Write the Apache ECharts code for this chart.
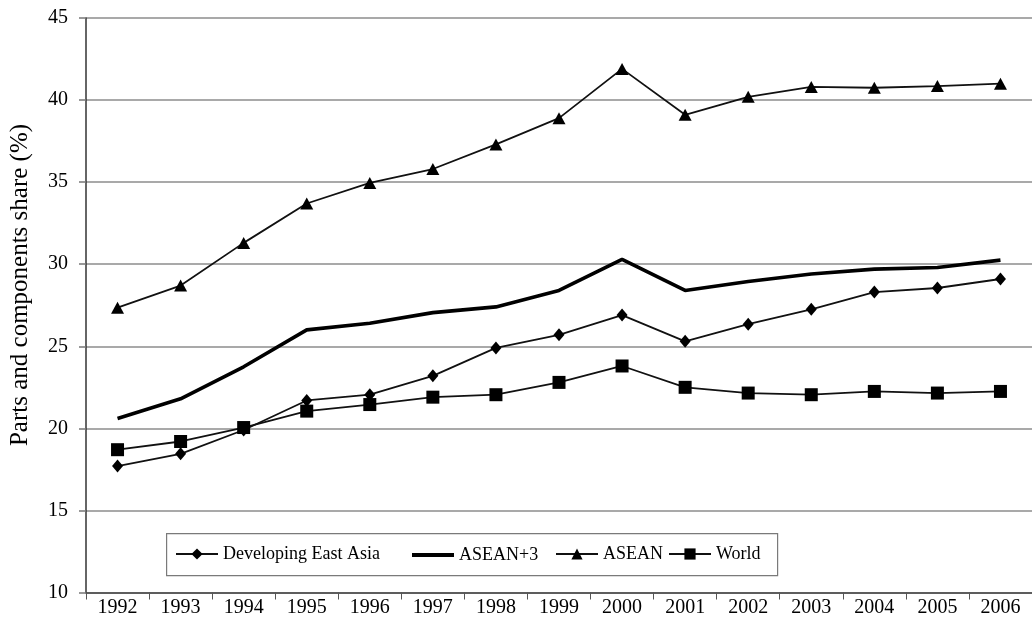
<!DOCTYPE html>
<html>
<head>
<meta charset="utf-8">
<script src="https://cdn.jsdelivr.net/npm/echarts@6/dist/echarts.min.js"></script>
<style>
html,body{margin:0;padding:0;background:#fff;}
#chart{width:1032px;height:620px;}
</style>
</head>
<body>
<div id="chart"></div>
<script>
const years = ['1992','1993','1994','1995','1996','1997','1998','1999','2000','2001','2002','2003','2004','2005','2006'];
const developingEastAsia = [17.7,18.45,19.9,21.7,22.05,23.2,24.9,25.7,26.9,25.3,26.35,27.25,28.3,28.55,29.1];
const aseanPlus3 = [20.6,21.8,23.75,26.0,26.4,27.05,27.4,28.4,30.3,28.4,28.95,29.4,29.7,29.8,30.25];
const asean = [27.35,28.7,31.3,33.7,34.95,35.8,37.3,38.9,41.9,39.1,40.2,40.8,40.75,40.85,41.0];
const world = [18.7,19.2,20.05,21.05,21.45,21.9,22.05,22.8,23.8,22.5,22.15,22.05,22.25,22.15,22.25];
const yTicks = {min:10, max:45, interval:5};
const yTitle = 'Parts and components share (%)';

const FONT = '"Liberation Serif", "Times New Roman", serif';
const chart = echarts.init(document.getElementById('chart'), null, {renderer:'canvas'});

function legendAt(name, left, extra){
  return Object.assign({
    data:[name], left:left, top:545, orient:'horizontal',
    itemWidth:42, itemHeight:14, itemGap:0, padding:0,
    textStyle:{fontFamily:FONT, fontSize:18, color:'#000', padding:[2,0,0,0]},
    selectedMode:false
  }, extra || {});
}

chart.setOption({
  animation:false,
  backgroundColor:'#fff',
  grid:{left:86, right:0, top:18, bottom:27.5, containLabel:false},
  xAxis:{
    type:'category', data:years, boundaryGap:true,
    axisLine:{show:true, lineStyle:{color:'#444', width:1.5}},
    axisTick:{show:true, length:7, inside:false, lineStyle:{color:'#555', width:1}},
    axisLabel:{fontFamily:FONT, fontSize:20, color:'#000', margin:5},
    splitLine:{show:false}
  },
  yAxis:{
    type:'value', min:yTicks.min, max:yTicks.max, interval:yTicks.interval,
    axisLine:{show:true, lineStyle:{color:'#333', width:1.5}},
    axisTick:{show:true, length:7, lineStyle:{color:'#777', width:1.5}},
    axisLabel:{fontFamily:FONT, fontSize:20, color:'#000', margin:18},
    splitLine:{show:true, lineStyle:{color:'#8c8c8c', width:1.5}}
  },
  legend:[
    legendAt('Developing East Asia', 175),
    legendAt('ASEAN+3', 412, {icon:'rect', itemHeight:4, top:546}),
    legendAt('ASEAN', 555),
    legendAt('World', 668)
  ],
  graphic:[
    {type:'rect', left:166, top:533, shape:{width:611, height:42},
     style:{fill:'#fff', stroke:'#7a7a7a', lineWidth:1.2}, z:-1, silent:true},
    {type:'text', x:20, y:285, rotation:Math.PI/2,
     style:{text:yTitle, font:'25px "Liberation Serif", serif', fill:'#000',
            textAlign:'center', textVerticalAlign:'middle'}, silent:true}
  ],
  series:[
    {name:'Developing East Asia', type:'line', data:developingEastAsia,
     symbol:'diamond', symbolSize:[11,13], showSymbol:true,
     lineStyle:{color:'#111', width:1.8}, itemStyle:{color:'#000'}, z:3},
    {name:'ASEAN+3', type:'line', data:aseanPlus3,
     symbol:'none', showSymbol:false,
     lineStyle:{color:'#000', width:3.6}, itemStyle:{color:'#000'}, z:4},
    {name:'ASEAN', type:'line', data:asean,
     symbol:'triangle', symbolSize:[13,12],
     lineStyle:{color:'#111', width:1.8}, itemStyle:{color:'#000'}, z:3},
    {name:'World', type:'line', data:world,
     symbol:'rect', symbolSize:[13,13],
     lineStyle:{color:'#111', width:1.8}, itemStyle:{color:'#000'}, z:3}
  ]
});
</script>
</body>
</html>
